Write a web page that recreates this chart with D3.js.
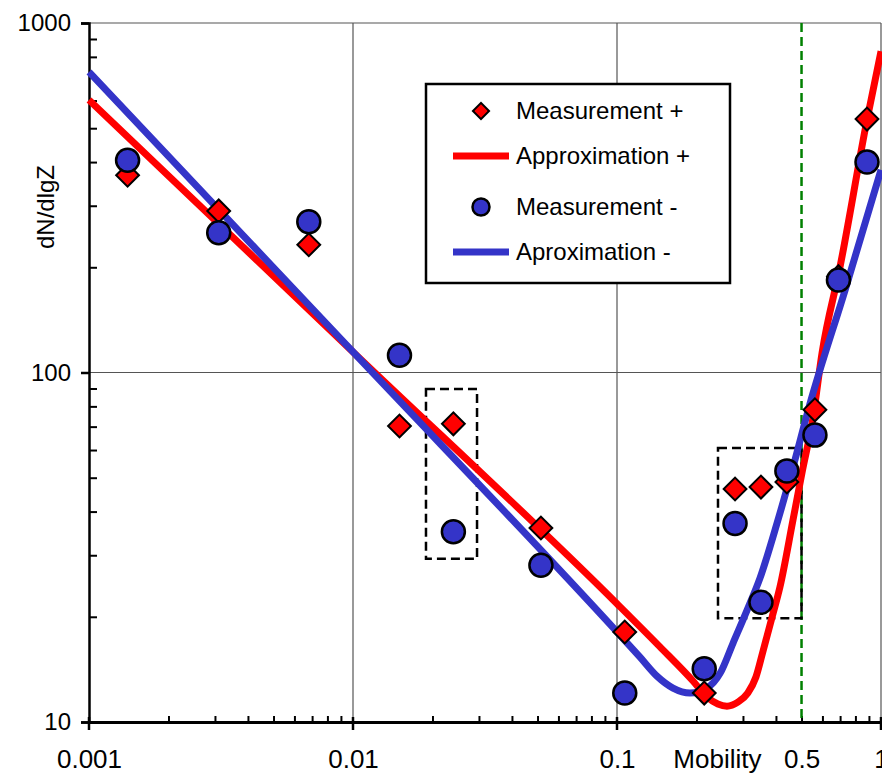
<!DOCTYPE html>
<html>
<head>
<meta charset="utf-8">
<script src="https://cdn.jsdelivr.net/npm/d3@7"></script>
<style>
  body { margin: 0; background: #fff; }
  svg { font-family: "Liberation Sans", Arial, sans-serif; }
</style>
</head>
<body>
<div id="chart"></div>
<script>
// measured points (mobility on x)
var mobility = [0.0014, 0.0031, 0.0068, 0.015, 0.024, 0.0515, 0.107, 0.214, 0.28, 0.351, 0.44, 0.562, 0.69, 0.885];
var measPlus = [367, 290, 232, 70.3, 71.3, 35.9, 18.1, 12.1, 46.4, 47.0, 48.6, 78.2, 188, 531];
var measMinus = [405, 251, 270, 112, 35.0, 28.1, 12.1, 14.2, 37.0, 22.0, 52.3, 66.2, 184, 400];

// approximation curves
var approxPlusX = [0.001, 0.01, 0.1, 0.1455, 0.194, 0.219, 0.241, 0.261, 0.287, 0.313, 0.336, 0.357, 0.387, 0.414, 0.464, 0.502, 0.553, 0.598, 0.699, 0.885, 1.0];
var approxPlusY = [602, 114.5, 21.8, 16.4, 13.1, 11.8, 11.26, 11.1, 11.4, 12.1, 13.45, 15.9, 20.0, 24.3, 37.8, 51.6, 74.6, 113.7, 200, 528, 830];
var approxMinusX = [0.001, 0.01, 0.1, 0.122, 0.142, 0.163, 0.189, 0.219, 0.246, 0.275, 0.311, 0.348, 0.404, 0.464, 0.538, 0.731, 1.0];
var approxMinusY = [724, 114.5, 18.1, 15.35, 13.5, 12.5, 12.1, 12.5, 13.8, 16.8, 20.9, 25.8, 37.1, 53.6, 81.3, 172, 380];

// axis ticks
var xMajor = [0.001, 0.01, 0.1, 1];
var xLabels = [0.001, 0.01, 0.1, 0.5, 1];
var yMajor = [10, 100, 1000];
var marker = 0.5;

// dashed boxes [x1, x2, yLow, yHigh]
var boxes = [[0.0189, 0.0295, 29.3, 89.7], [0.2413, 0.5, 19.8, 60.8]];

var legendNames = ["Measurement +", "Approximation +", "Measurement -", "Aproximation -"];

var svgWidth = 882;
var svgHeight = 776;
var margin = { top: 23, bottom: 54, right: 1, left: 89 };
var width = svgWidth - margin.left - margin.right;
var height = svgHeight - margin.top - margin.bottom;

var red = "#ff0000";
var blue = "#3434c8";

var svg = d3.select("#chart")
    .append("svg")
    .attr("width", svgWidth)
    .attr("height", svgHeight);

var chartGroup = svg.append("g")
    .attr("transform", `translate(${margin.left}, ${margin.top})`);

var x = d3.scaleLog().domain([0.001, 1]).range([0, width]);
var y = d3.scaleLog().domain([10, 1000]).range([height, 0]);

// minor tick values
var xMinor = [];
[0.001, 0.01, 0.1].forEach(function(d) {
    for (var k = 2; k <= 9; k++) xMinor.push(d * k);
});
var yMinor = [];
[10, 100].forEach(function(d) {
    for (var k = 2; k <= 9; k++) yMinor.push(d * k);
});

// gridlines
chartGroup.selectAll(".vgrid")
    .data([0.01, 0.1, 1])
    .enter()
    .append("line")
    .attr("x1", d => x(d)).attr("x2", d => x(d))
    .attr("y1", 0).attr("y2", height)
    .attr("stroke", "#555").attr("stroke-width", 1.2);

chartGroup.selectAll(".hgrid")
    .data([100, 1000])
    .enter()
    .append("line")
    .attr("x1", 0).attr("x2", width)
    .attr("y1", d => y(d)).attr("y2", d => y(d))
    .attr("stroke", "#555").attr("stroke-width", 1.2);

// minor ticks (inside)
var xMinorAxis = chartGroup.append("g")
    .attr("transform", `translate(0, ${height})`)
    .call(d3.axisBottom(x).tickValues(xMinor).tickSize(-6).tickFormat(""));
xMinorAxis.select(".domain").remove();
xMinorAxis.selectAll("line").attr("stroke", "#000").attr("stroke-width", 2);

var yMinorAxis = chartGroup.append("g")
    .call(d3.axisLeft(y).tickValues(yMinor).tickSize(-8).tickFormat(""));
yMinorAxis.select(".domain").remove();
yMinorAxis.selectAll("line").attr("stroke", "#000").attr("stroke-width", 2);

// bottom axis
var xAxis = chartGroup.append("g")
    .attr("transform", `translate(0, ${height})`)
    .call(d3.axisBottom(x).tickValues(xLabels).tickSize(0).tickPadding(28).tickFormat(d => String(d)));
xAxis.select(".domain").attr("stroke", "#000").attr("stroke-width", 3);
xAxis.selectAll("text")
    .style("font-size", "26px")
    .attr("fill", "#000");

chartGroup.selectAll(".xmajor")
    .data(xMajor)
    .enter()
    .append("line")
    .attr("x1", d => x(d)).attr("x2", d => x(d))
    .attr("y1", height - 5).attr("y2", height + 8)
    .attr("stroke", "#000").attr("stroke-width", 2.5);

// left axis
var yAxis = chartGroup.append("g")
    .call(d3.axisLeft(y).tickValues(yMajor).tickSize(8).tickPadding(10).tickFormat(d3.format("d")));
yAxis.select(".domain").attr("stroke", "#000").attr("stroke-width", 2.5);
yAxis.selectAll("line").attr("stroke", "#000").attr("stroke-width", 2.5);
yAxis.selectAll("text")
    .style("font-size", "24px")
    .attr("fill", "#000");

// axis titles
chartGroup.append("text")
    .attr("x", x(0.24))
    .attr("y", height + 46)
    .style("text-anchor", "middle")
    .style("font-size", "26px")
    .text("Mobility");

chartGroup.append("text")
    .attr("transform", "translate(-35, 184) rotate(-90)")
    .style("text-anchor", "middle")
    .style("font-size", "24px")
    .text("dN/dlgZ");

// green dashed marker line
chartGroup.append("line")
    .attr("x1", x(marker)).attr("x2", x(marker))
    .attr("y1", 0).attr("y2", height)
    .attr("stroke", "#008000")
    .attr("stroke-width", 2.5)
    .attr("stroke-dasharray", "9,5");

// dashed boxes
chartGroup.selectAll(".box")
    .data(boxes)
    .enter()
    .append("rect")
    .attr("x", d => x(d[0]))
    .attr("y", d => y(d[3]))
    .attr("width", d => x(d[1]) - x(d[0]))
    .attr("height", d => y(d[2]) - y(d[3]))
    .attr("fill", "none")
    .attr("stroke", "#000")
    .attr("stroke-width", 2.5)
    .attr("stroke-dasharray", "9,5");

// approximation curves
var line = d3.line()
    .x(d => x(d[0]))
    .y(d => y(d[1]))
    .curve(d3.curveMonotoneX);

chartGroup.append("path")
    .datum(d3.zip(approxPlusX, approxPlusY))
    .attr("d", line)
    .attr("fill", "none")
    .attr("stroke", red)
    .attr("stroke-width", 7);

chartGroup.append("path")
    .datum(d3.zip(approxMinusX, approxMinusY))
    .attr("d", line)
    .attr("fill", "none")
    .attr("stroke", blue)
    .attr("stroke-width", 7);

// diamonds
var diamond = d3.symbol().type(d3.symbolSquare).size(260);
chartGroup.selectAll(".dia")
    .data(d3.zip(mobility, measPlus))
    .enter()
    .append("path")
    .attr("d", diamond)
    .attr("transform", d => `translate(${x(d[0])}, ${y(d[1])}) rotate(45)`)
    .attr("fill", red)
    .attr("stroke", "#000")
    .attr("stroke-width", 2);

// circles
chartGroup.selectAll(".dot")
    .data(d3.zip(mobility, measMinus))
    .enter()
    .append("circle")
    .attr("cx", d => x(d[0]))
    .attr("cy", d => y(d[1]))
    .attr("r", 11.5)
    .attr("fill", blue)
    .attr("stroke", "#000")
    .attr("stroke-width", 2.5);

// legend
var legend = svg.append("g").attr("transform", "translate(426, 84)");
legend.append("rect")
    .attr("width", 304)
    .attr("height", 199)
    .attr("fill", "#fff")
    .attr("stroke", "#000")
    .attr("stroke-width", 2.5);

var rowY = [27, 72, 123, 168];
legend.append("path")
    .attr("d", d3.symbol().type(d3.symbolSquare).size(130))
    .attr("transform", `translate(55, ${rowY[0]}) rotate(45)`)
    .attr("fill", red).attr("stroke", "#000").attr("stroke-width", 2);
legend.append("line")
    .attr("x1", 27).attr("x2", 83).attr("y1", rowY[1]).attr("y2", rowY[1])
    .attr("stroke", red).attr("stroke-width", 7);
legend.append("circle")
    .attr("cx", 55).attr("cy", rowY[2]).attr("r", 8.5)
    .attr("fill", blue).attr("stroke", "#000").attr("stroke-width", 2.5);
legend.append("line")
    .attr("x1", 27).attr("x2", 83).attr("y1", rowY[3]).attr("y2", rowY[3])
    .attr("stroke", blue).attr("stroke-width", 7);

legend.selectAll(".ltext")
    .data(legendNames)
    .enter()
    .append("text")
    .attr("x", 90)
    .attr("y", (d, i) => rowY[i] + 8)
    .style("font-size", "24px")
    .text(d => d);
</script>
</body>
</html>
